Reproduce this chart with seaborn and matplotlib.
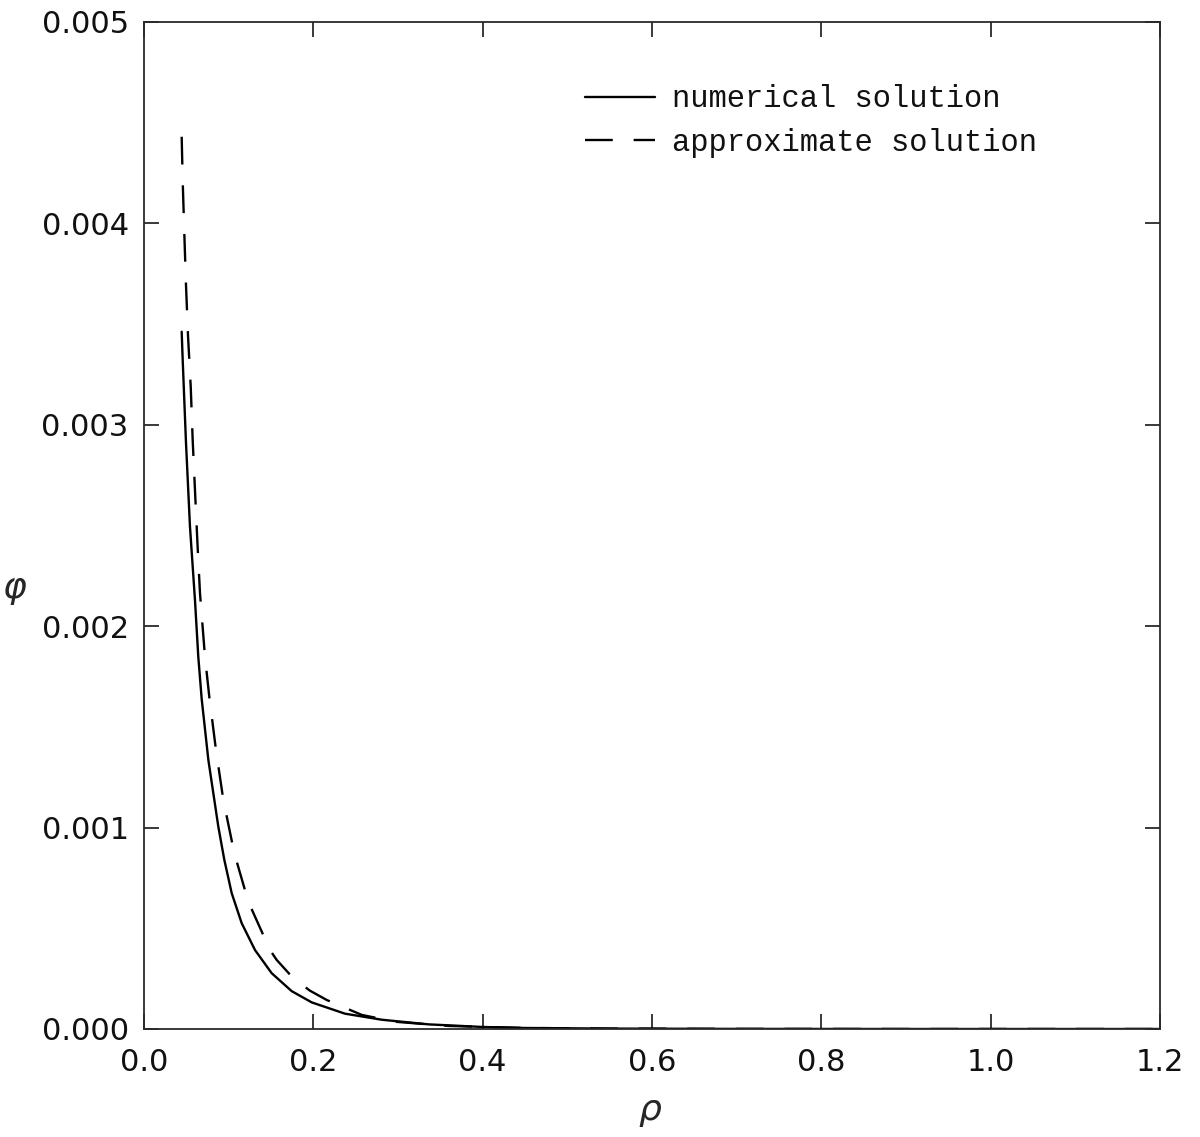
import matplotlib
matplotlib.use("Agg")
import matplotlib.pyplot as plt
import seaborn as sns
import pandas as pd

# Numerical solution of phi(rho)
rho_numerical = [0.0445, 0.0457, 0.0496, 0.0543, 0.0602, 0.0641, 0.0681, 0.0760,
                 0.0819, 0.0878, 0.0949, 0.1036, 0.1154, 0.1311, 0.1508, 0.1744,
                 0.1981, 0.2374, 0.2807, 0.3358, 0.40, 0.45, 0.55, 0.70, 0.90, 1.20]
phi_numerical = [0.003462, 0.003322, 0.002910, 0.002494, 0.002130, 0.001849, 0.001640,
                 0.001336, 0.001170, 0.001004, 0.000839, 0.000674, 0.000525, 0.000392,
                 0.000277, 0.000188, 0.000132, 0.000076, 0.000046, 0.000023, 0.000010,
                 0.000005, 0.000002, 0.0000005, 0.0, 0.0]

# Approximate (analytical) solution of phi(rho)
rho_approx = [0.0445, 0.0457, 0.0476, 0.0496, 0.0520, 0.0552, 0.0575, 0.0602, 0.0630,
              0.0661, 0.0720, 0.0771, 0.0850, 0.0937, 0.1067, 0.1232, 0.1488, 0.1567,
              0.1763, 0.1961, 0.2158, 0.2571, 0.2965, 0.36, 0.45, 0.55, 0.70, 0.90, 1.20]
phi_approx = [0.004430, 0.004210, 0.003952, 0.003694, 0.003441, 0.003187, 0.002924,
              0.002676, 0.002423, 0.002165, 0.001849, 0.001650, 0.001385, 0.001137,
              0.000872, 0.000632, 0.000392, 0.000343, 0.000252, 0.000190, 0.000144,
              0.000070, 0.000036, 0.000015, 0.000005, 0.000002, 0.0000005, 0.0, 0.0]

x_ticks = [0.0, 0.2, 0.4, 0.6, 0.8, 1.0, 1.2]
y_ticks = [0.000, 0.001, 0.002, 0.003, 0.004, 0.005]
labels = ["numerical solution", "approximate solution"]

sns.set_style("ticks")
plt.rcParams["font.family"] = ["DejaVu Sans"]
plt.rcParams["lines.scale_dashes"] = False

df_num = pd.DataFrame({"rho": rho_numerical, "phi": phi_numerical})
df_app = pd.DataFrame({"rho": rho_approx, "phi": phi_approx})

fig = plt.figure(figsize=(12, 11.37), dpi=100)
ax = fig.add_axes([0.12, 0.095, 0.8467, 0.8857])

sns.lineplot(data=df_num, x="rho", y="phi", ax=ax, color="black", lw=1.7,
             sort=False, estimator=None, label=labels[0])
sns.lineplot(data=df_app, x="rho", y="phi", ax=ax, color="black", lw=1.7,
             sort=False, estimator=None, label=labels[1])
ax.lines[1].set_linestyle((0, (20, 15)))

ax.set_xlim(0, 1.2)
ax.set_ylim(0, 0.005)
ax.set_xticks(x_ticks)
ax.set_yticks(y_ticks)
ax.set_xticklabels([f"{v:.1f}" for v in x_ticks])
ax.set_yticklabels([f"{v:.3f}" for v in y_ticks])

for side in ["top", "right", "bottom", "left"]:
    ax.spines[side].set_visible(True)
    ax.spines[side].set_linewidth(1.3)
    ax.spines[side].set_color("#2a2a2a")

ax.tick_params(axis="both", which="major", direction="in", length=11, width=1.3,
               color="#2a2a2a", top=True, right=True, labelsize=22,
               labelcolor="#111111")
ax.tick_params(axis="x", pad=14)
ax.tick_params(axis="y", pad=11)

ax.set_xlabel(r"$\rho$", fontsize=26)
ax.set_ylabel(r"$\varphi$", fontsize=26, rotation=0, va="center", ha="center")
ax.xaxis.set_label_coords(0.498, -0.066)
ax.yaxis.set_label_coords(-0.127, 0.436)

leg = ax.legend(loc="upper left", bbox_to_anchor=(0.434, 0.938), frameon=False,
                prop={"family": "Liberation Mono", "size": 22},
                handlelength=2.3, handletextpad=0.55, labelspacing=0.45,
                borderpad=0, borderaxespad=0)
for t in leg.get_texts():
    t.set_color("#111111")

fig.savefig("out.png", dpi=100, facecolor="white")
